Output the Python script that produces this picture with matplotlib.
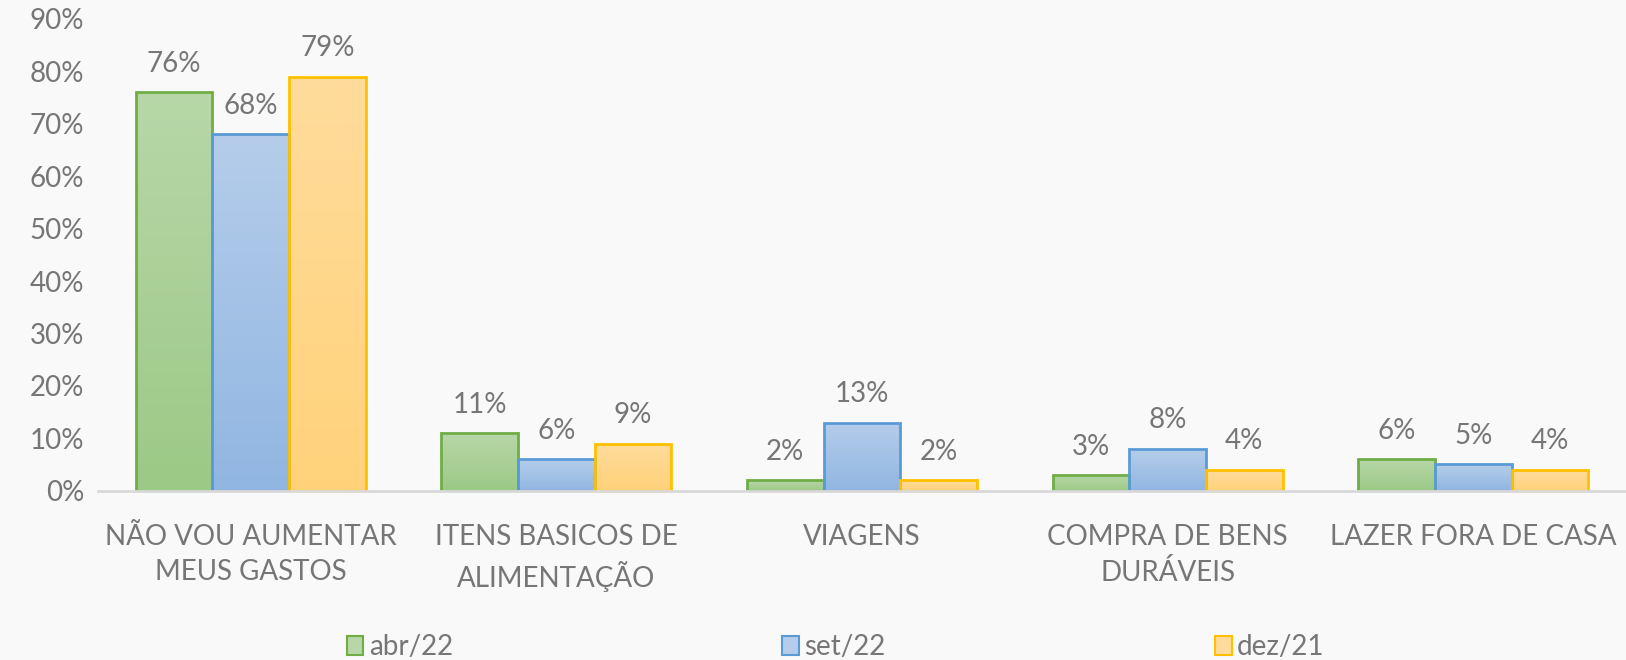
import numpy as np
import matplotlib
matplotlib.use("Agg")
import matplotlib.pyplot as plt
from matplotlib.patches import Rectangle
from matplotlib.colors import LinearSegmentedColormap

categories = ["NÃO VOU AUMENTAR\nMEUS GASTOS", "ITENS BASICOS DE\nALIMENTAÇÃO", "VIAGENS",
              "COMPRA DE BENS\nDURÁVEIS", "LAZER FORA DE CASA"]
series_names = ["abr/22", "set/22", "dez/21"]
abr22 = [76, 11, 2, 3, 6]
set22 = [68, 6, 13, 8, 5]
dez21 = [79, 9, 2, 4, 4]
yticks = [0, 10, 20, 30, 40, 50, 60, 70, 80, 90]

series = [abr22, set22, dez21]
tops = ["#b7d7a8", "#b5cdea", "#ffdc9c"]
bottoms = ["#9cc986", "#91b6e2", "#ffd27a"]
edges = ["#70ad47", "#5b9bd5", "#ffc000"]
txt = "#767676"

plt.rcParams['font.family'] = ['Lato', 'DejaVu Sans']

fig = plt.figure(figsize=(16.26, 6.6), dpi=100)
fig.patch.set_facecolor("#f9f9fa")
ax = fig.add_axes([98/1626, 1 - 490.7/660, 1 - 98/1626, (490.7 - 19)/660])
ax.set_facecolor("none")

n = len(categories)
x = np.arange(n)
bw = 0.251
ax.set_xlim(-0.5, n - 0.5)
ax.set_ylim(0, 90)

grad = np.linspace(1, 0, 256).reshape(-1, 1)
for i, (vals, t, b, e) in enumerate(zip(series, tops, bottoms, edges)):
    cmap = LinearSegmentedColormap.from_list("g%d" % i, [b, t])
    for j, v in enumerate(vals):
        x0 = x[j] + (i - 1) * bw - bw / 2
        im = ax.imshow(grad, cmap=cmap, aspect="auto", extent=(x0, x0 + bw, 0, v),
                       origin="upper", zorder=2, vmin=0, vmax=1)
        r = Rectangle((x0, 0), bw, v, facecolor="none", edgecolor=e, linewidth=2, zorder=3)
        ax.add_patch(r)
        im.set_clip_path(r)
        ax.annotate(f"{v}%", (x0 + bw / 2, v), xytext=(0, 11), textcoords="offset points",
                    ha="center", va="bottom", fontsize=20, color=txt)

ax.set_xlim(-0.5, n - 0.5)
ax.set_ylim(0, 90)
ax.set_yticks(yticks)
ax.set_yticklabels([f"{v}%" for v in yticks], fontsize=20, color=txt)
ax.set_xticks(x)
ax.set_xticklabels(categories, fontsize=20, color=txt, linespacing=1.42)
ax.tick_params(axis="both", length=0)
ax.tick_params(axis="x", pad=24)
ax.tick_params(axis="y", pad=10)
for s in ["top", "right", "left"]:
    ax.spines[s].set_visible(False)
ax.spines["bottom"].set_color("#d9d9d9")
ax.spines["bottom"].set_linewidth(2)
ax.spines["bottom"].set_zorder(4)

handles = [Rectangle((0, 0), 1, 1, facecolor=t, edgecolor=e, linewidth=1.5)
           for t, e in zip(tops, edges)]
fig.legend(handles, series_names, loc="center", bbox_to_anchor=(0.514, 1 - 647/660), ncol=3,
           frameon=False, fontsize=20, labelcolor=txt, handlelength=0.6, handleheight=0.7,
           handletextpad=0.2, columnspacing=11.85)

fig.savefig("out.png", dpi=100, facecolor=fig.get_facecolor())
